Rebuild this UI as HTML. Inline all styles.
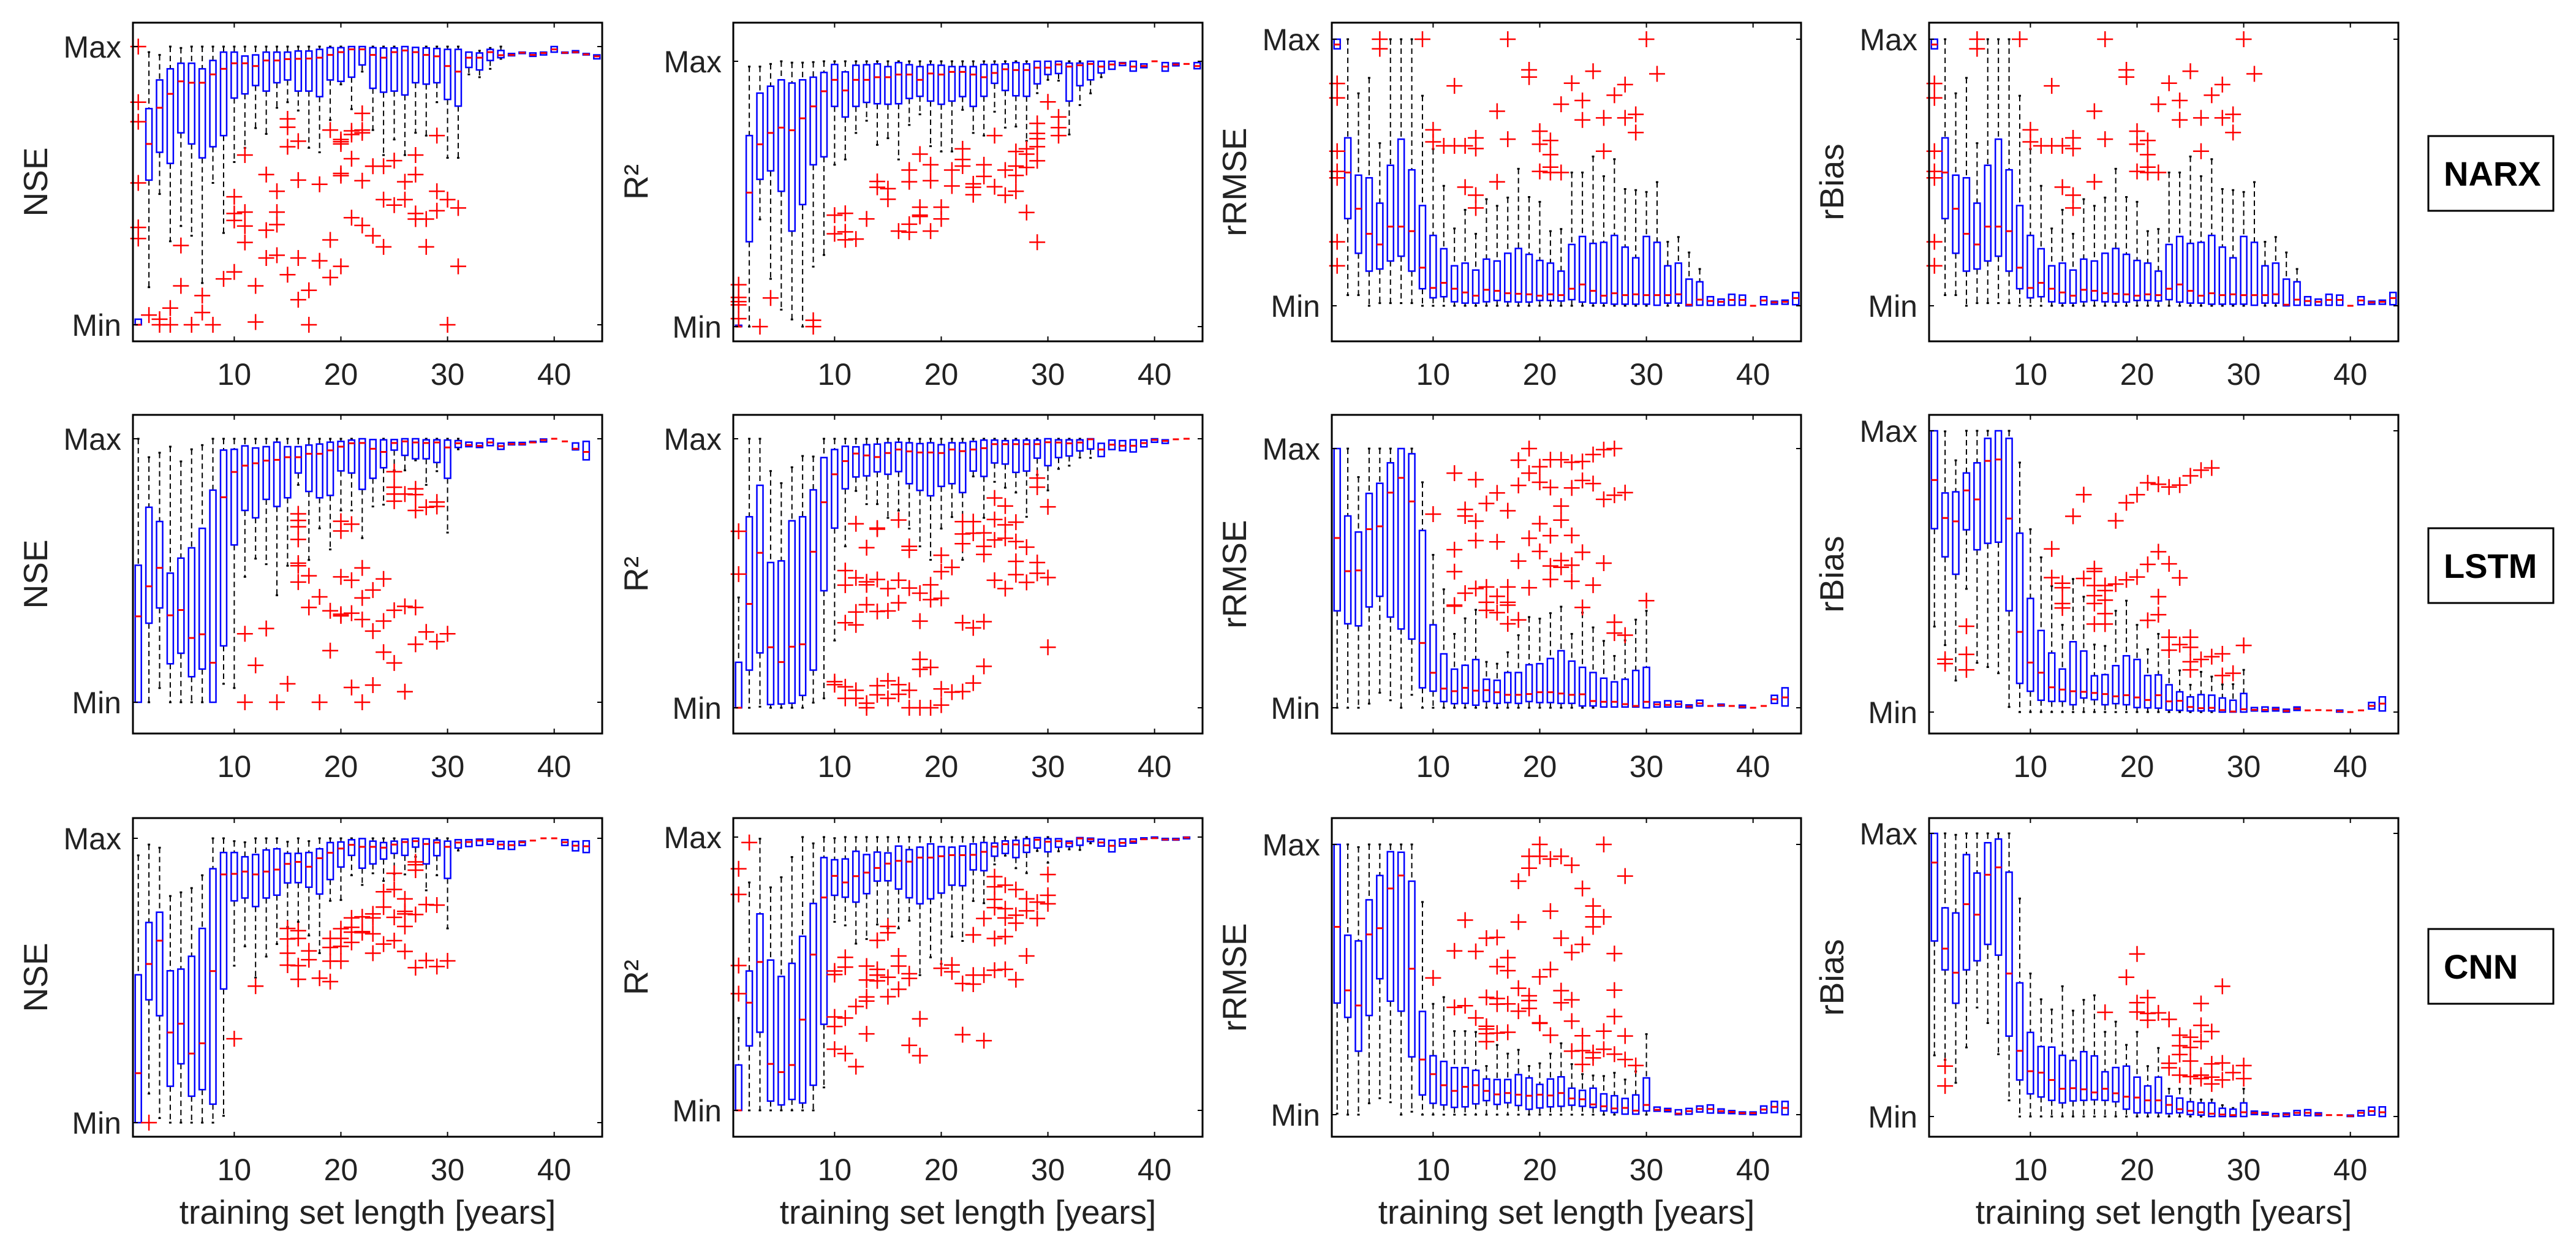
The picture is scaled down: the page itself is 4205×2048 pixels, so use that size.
<!DOCTYPE html>
<html><head><meta charset="utf-8"><style>
html,body{margin:0;padding:0;background:#fff;}
svg{display:block;font-family:"Liberation Sans",Arial,sans-serif;}
</style></head><body>
<svg id="fig" width="4205" height="2048" viewBox="0 0 4205 2048" xmlns="http://www.w3.org/2000/svg">
<rect width="4205" height="2048" fill="#fff"/>
<g><rect x="3964" y="222" width="204" height="122" fill="#fff" stroke="#000" stroke-width="3"/><text x="3989" y="303" font-size="56" font-weight="bold">NARX</text></g>
<g><rect x="3964" y="862" width="204" height="122" fill="#fff" stroke="#000" stroke-width="3"/><text x="3989" y="943" font-size="56" font-weight="bold">LSTM</text></g>
<g><rect x="3964" y="1516" width="204" height="122" fill="#fff" stroke="#000" stroke-width="3"/><text x="3989" y="1597" font-size="56" font-weight="bold">CNN</text></g>
</svg>
<script>
// ---- data (normalised 0 = Min, 100 = Max) ----
const xTicks = [10,20,30,40];
const yTickLabels = ["Min","Max"];
const yLabels = ["NSE","R²","rRMSE","rBias"];
const xLabelText = "training set length [years]";

// NARX NSE
const p11Whi=[2,98,97,100,99.5,100,100,100,100,100,100,100,100,100,100,100,100,100,100,100,100,100,100,100,100,100,100,100,100,100,100,98,98.5,99.5,100];
const p11Q3=[2,77.7,88,92,94,94,92,95,98,98,96.6,97,98,98,98,98.4,98.4,99,99.6,99.6,100,100,99.6,99.5,99.5,100,99.7,99.5,99.3,99,99,98,97.7,99,98.6,97.5,98,97.7,98,100,98,98.5,97.5,97];
const p11Med=[0,65,78,83,87.5,87,87,90,92,94,94,93,95,95,95.5,95.6,95.7,96,97,98,99,99,97,96,98,98.6,98,97,96.5,93,91,96,96,98,96.9,97,97.8,97,97.7,99,97.8,98,97.2,96.5];
const p11Q1=[0,52,62,58,69,65,60,64,68,81.5,83,86,84,87,88,84,84,82,88,87.5,89,93.4,85,83.6,84,82.6,87,86.5,87,81,78.6,92.5,91.6,95,96,96.7,97.5,96.5,97,98,97.6,97.8,97,95.6];
const p11Wlo=[0,13.5,47,30,35.5,32,15,51,33,58.5,63.6,70.7,68.6,78,80,77,63.6,62,73.6,86.4,77.5,91,70,61,66.6,61,69,68,80,60,60,90,89,92,95.6];
const p11Out=[[1,100,80,73,51,35,31],[2,3.5],[3,2,0],[4,6,0],[5,28.5,14],[6,0],[7,10.5,4.4],[8,0],[9,16.5],[10,46,40,37.5,19],[11,61,40.5,35.5,29.6],[12,14,1],[13,54,34,24],[14,48,40.5,36,25],[15,74,71,64,18],[16,66,52,24,9],[17,12.4,0],[18,50.5,23],[19,70,30.5,17],[20,66.6,65.8,65,54.4,53.6,21],[21,69.7,68.4,59.7,38.5],[22,76,70,69,51.8,35.7],[23,57,32],[24,57,45,28],[25,59,43],[26,51.4,45],[27,61,54,40,38],[28,38,28],[29,68,48,41],[30,45,0],[31,42,21]];

// NARX R2
const p12Whi=[0.5,98,98,99,100,99.5,99.5,99.7,100,100,100,100,100,100,100,100,100,100,100,100,100,100,100,100,100,100,100,100,100,100,100,100,100,100,100];
const p12Q3=[0.5,72,88,90.6,93,91.8,93,94,95.8,98.8,96,98.5,98.7,99,98,99.5,98.7,98,98.7,98.5,98,98,98,98.8,98.8,99,99.5,99,100,100,100,99.3,99.3,100,100,100,99.5,100,99,100,99.5,99.3,99.2,99.5];
const p12Med=[0,50.5,68.7,73,75,74,78.5,83,88.7,93,89,93,93,94,94,95,95,93,95.4,95,96,96,95,94,95.6,97,96.7,96.7,97.6,97.6,98.8,98,98.5,99,98,98.8,99.2,98,98.2,100,98,98.8,99,98.2];
const p12Q1=[0,32,55.5,58.7,51,36,46,61,64,83,79,83,84.5,84,83.8,84,86,86.8,85,83.8,85,86.7,83,86.8,91.7,89,87,86.8,91.5,95,95.4,85,90.8,93,95.6,97,98.4,96.3,97.6,100,96.3,98.3,99,97.2];
const p12Wlo=[0,0,40.4,18,6.4,2.7,0,22.6,27,61,63,73,77.6,68.5,71,63,76,80,68,66,66,81.7,73,72,81,75,75.4,70,88,93,92.7,72.4,83.5,87.9,94];
const p12Out=[[1,15.8,11,9.4,8.2,3],[3,0],[4,10.8],[8,2.4,0],[10,42,35],[11,42.7,35.7,32.7],[12,33],[13,40.6],[14,54.7,52.5],[15,52,48],[16,36],[17,59,54.6,38.6,35.6],[18,65,45,42,41.5],[19,61,55,36],[20,45,40.6],[21,59,53],[22,67,63,60.5],[23,53.8,52.5,49.7],[24,61,56.6],[25,72,52.7],[26,59,49.5],[27,66,60.5,57,51],[28,67,65,60,43],[29,76.6,72.8,70.8,67.8,62.5,31.8],[30,84.7],[31,79,75,72]];

// NARX rRMSE
const p13Whi=[100,100,79.7,85.5,61,100,100,100,78.8,58.8,45,29,36,27,40,37.5,40.6,51.4,40.8,39,28,28.8,50,50,56,48.6,55,43.8,43.4,42.7,46.4,24,25.8,20,13.8];
const p13Q3=[100,63,49,48,38.5,52.7,62.5,51,37.6,26.4,21.4,15,16,13.4,17.5,16.8,19.7,21.5,19.3,17,16,13,23,26,23.4,23.8,26.4,22,18,26,23.8,15,16,10,9,3.4,2.5,4.3,4,0,3.4,1.7,2.1,5];
const p13Med=[98,50,36.4,27,23,29.7,29.7,28,14.3,6.7,8.6,6.4,5,3.8,6,5.6,4.7,4.5,4.3,3.8,4.3,4,6.4,8,5.6,3.8,4.7,4,4.3,4,4,4,4.3,0.4,2.3,1.8,1.5,2.2,2.2,0,2,1.3,1.5,2.9];
const p13Q1=[96.4,32.7,19.7,13,13.8,16.8,18.6,13,6.4,3,3.4,1.5,1,1,1.5,2,1.5,1.4,1.4,2,2,1.8,2.3,1.4,1,1,0.6,0.6,0.6,0.6,0.2,1,1,0,0.2,0.2,0.2,0.2,0.2,0,0.4,0.6,0.6,0.4];
const p13Wlo=[96.4,4,4,0,1,1,1,1,0,0,0,0,0,0,0,0,0,0,0,0,0,0,0,0,0,0,0,0,0,0,0,0,0,0,0];
const p13Out=[[1,83.4,78,58,50.4,48,24,15],[5,100,96.4],[9,100],[10,66,61.5],[11,60],[12,82.5,60],[13,60,44.5],[14,63,59,41.5,36.7],[16,73,46.5],[17,100,62.5],[19,88.5,85.8],[20,65.5,60.6,50.4],[21,62,56.7,52,50],[22,75.6,50],[23,83.5],[24,77,69.7],[25,88],[26,70.5,58],[27,79],[28,83,70.5],[29,71.8,65],[30,100],[31,87]];

// NARX rBias
const p14Whi=p13Whi.slice(), p14Q3=p13Q3.slice(), p14Med=p13Med.slice(), p14Q1=p13Q1.slice(), p14Wlo=p13Wlo.slice(), p14Out=p13Out.map(a=>a.slice());

// LSTM NSE
const p21Whi=[100,93,94.7,97,91.4,96,97.6,100,100,100,100,100,100,100,100,100,100,100,100,100,100,100,100,100,100,100,100,100,100,100,100];
const p21Q3=[52,74,68.6,49,54.7,58.6,66,80.5,95.7,96,97.3,96.5,97,98.7,97,97,97.6,98,98.7,99,99.5,100,99.7,99.6,99.7,100,100,99.6,99.6,99.5,99.3,98.7,98.4,100,98.3,98.6,98.6,99,99.9,100,99,98.4,99,null];
const p21Med=[32.6,44,51,33,35,24.4,25.8,15,77.8,87.4,89.8,90.7,91.7,92,93,93,94.3,94.3,95.6,97,98.3,98.4,96.2,95,98.4,99,98.6,98.4,98.6,96.7,98.3,97.6,97.3,98.6,97.2,98,98,98.6,99.5,100,99,96.2,95,null];
const p21Q1=[0,30,35.8,14.6,18.6,9.7,12.6,0,21.4,59.7,72.8,70,77,74.3,77.6,87,80,77.6,78.5,87.8,87,80.8,85,89,95.7,93.7,92.4,92.4,91,85,96.7,97,96.7,97.4,96,97.7,97.7,98.6,98.8,100,99,95.8,92,null];
const p21Wlo=[0,0,5.4,0,0,0,0,0,7,5.4,47.6,54.5,52.4,40.6,51.8,82.5,54,66,58,72.8,72.8,62.3,74.3,75,88,88,91.8,82.5,87.7,64.4,96];
const p21Out=[[11,26,0],[12,14],[13,28],[14,0],[15,7],[16,71.5,69,66.6,61.8,52.8,51.8,45.6],[17,48,36],[18,40,0],[19,34.7,19.6],[20,68.7,65,47.6,33.4,32.8],[21,67.6,46.3,33.8,5.6],[22,51,39.6,31.4,0],[23,42.6,27,6.5],[24,46.8,30.8,19],[25,87.5,81.6,79,76.3,34.9,14.9],[26,79,36.4,4],[27,81,78.8,72.8,36,22],[28,74,26.7],[29,76,74.3,23],[30,26]];

// LSTM R2
const p22Whi=[41,100,100,88,83.5,89.4,93.6,93.4,100,100,100,100,100,100,100,100,100,100,100,100,100,100,100,100,100,100,100,100,100,100,100,100,100,100];
const p22Q3=[16.9,71,82.7,54,54.6,69.5,71,81,93,96,97.2,97,97.8,98,98.5,98.7,98.5,98.2,98.5,97.8,98.5,98.5,99,99.5,99.5,99.3,99.5,99.5,99.5,100,99.6,99.6,99.6,100,98.3,99.5,99.3,99.6,99.5,100,99.6,99.8,100,null];
const p22Med=[0,38.6,57.6,22.5,17,22.7,23.6,58,76.4,86.8,91.7,94.5,93.8,93.2,94.7,96,95.3,94.9,94.9,94.7,96,95.4,96,96.5,98,98,98,98,98,98.7,98.6,98.3,98.6,99.8,96,97.8,97.4,97.4,98.4,99.6,99.2,99.8,100,null];
const p22Q1=[0,14,20.4,1.2,1.4,1.7,4.6,14,43.5,66.8,81.4,85.8,86.2,87.7,86.8,87.8,83.3,80.8,78.8,82.3,83.3,80,88,86,91,90.6,87.5,88,92.8,90,93,93.6,95.5,96.2,93.4,96,95.6,95.1,97,98.7,98.3,99.6,99.9,null];
const p22Wlo=[0,0,0.4,0,0,0,0,1.9,3.5,25,60,80.6,75.7,75.7,70.6,73.3,66.6,60,55,66.6,70.9,55,86,70.6,84,81.8,80,71,86.6,80.8,88.8,90,93,92.9];
const p22Out=[[1,65.6,49.7],[10,9.7,8.6],[11,51,45.6,31.6,7.8,3.5],[12,68.4,48.3,35.6,30.8,6.5,3.5],[13,59.5,46.8,45.7,38.3,1.7,0],[14,66.8,66.4,47.7,35.8,8.2,4.8],[15,44.3,36,10,3.5],[16,69.8,47.4,39,8.6,5],[17,60,58.6,44.5,6.5,0],[18,42.6,32.2,18,14.3,0],[19,45.7,40.2,15,0],[20,56.7,50.6,40.7,7,1],[21,52.2,5.8],[22,69.2,64.6,61,31.6,6],[23,69.2,64.9,29.7,9.2],[24,65,60,57,32,15.4],[25,78,70,62.4,47.4],[26,75,68,63,44.3],[27,69,61.8,54.4,49.5],[28,59.7,46.6],[29,85.4,82,54,50],[30,74.7,48.4,22.5]];

// LSTM rRMSE
const p23Whi=[100,100,89,100,100,100,100,100,87,59,45.7,28.5,34.5,37.8,17.7,17,21.4,28,35,34.4,36.5,39,28.5,36.7,31,25.8,20,26,34,37.4];
const p23Q3=[100,74,67.8,82.7,86.6,94.5,100,98,68.4,32,20.8,14.9,16.4,18.6,11,10.6,13.6,13.6,16.6,17,19,22,18,15.6,13.6,11.4,10,11,14.4,15.6,2.2,2.7,2.5,1.1,2.9,0.7,1.4,0.7,1,0,0.7,4.8,7.7,null];
const p23Med=[65.5,52.7,53,68.9,70,83,88.7,79.6,25,13.5,7.4,6.4,7.7,6.6,6.8,6,5,5,5.3,6,6,5.5,5,5.2,2.6,2.3,2.3,1.4,0.7,2.3,1.3,1.1,1.4,0.5,1.7,0.7,1,0.7,0.4,0,0.7,3.3,4,null];
const p23Q1=[37.4,32.4,31.6,38.9,43,35,30.4,26.5,7.7,6.4,2.4,1.6,1.7,1,2.4,1.7,2,1.7,2.4,2,2,1.7,1.7,0.7,0.7,0.3,0.3,0.3,0.3,0,0.3,0.3,0.3,0,0.7,0.7,0.7,0.7,0,0,0.7,1.7,0.7,null];
const p23Wlo=[0,0,0,1.6,5.8,2.9,0,5,0,0,0,0,0,0,0,0,0,0,0,0,0,0,0,0,0,0,0,0,0,0];
const p23Out=[[10,74.7],[12,90.5,61,52.5,39.6,39.2],[13,76.5,74,44.2],[14,88,72,64.5,46],[15,78.8,46.6,40.7,37.6],[16,82.9,64,43,36.7],[17,76,46.6,40.7,39.6,32.4],[18,95.5,85.8,56.6,33.9],[19,100,90.5,65.4,46.3],[20,93,87,71,60.3],[21,95.7,85,66.4,54.7,49.5],[22,95.7,77.8,72.4,56.8,54.2],[23,94.7,84.8,66.5,55,48.8],[24,95,87.7,60,38.7],[25,97.7,86.5,47.3],[26,99.6,80.4,55.8],[27,100,82,33,28.8],[28,83,28],[30,41.3]];

// LSTM rBias
const p24Whi=[100,99.8,89.5,100,100,100,100,100,88.7,65,55,44.8,31,47.3,41,24,23.5,36,39.6,31,22.3,27.8,22,14.8,9.7,14.3,12.6,9.8,9.9,15];
const p24Q3=[100,77.9,78.3,85,88.6,97.3,100,97.3,63.6,40.4,29,21,15.3,25,21.7,12.9,13.3,16.5,20,18.7,13,13.2,9.7,7.2,5.4,6.2,6,5,4.2,6.6,1.6,1.8,1.6,1,1.8,0.6,0.7,0.6,0.7,0,0.6,3.4,5.4,null];
const p24Med=[82.5,69,67.8,78.8,75.6,89.3,89.8,68.8,28.5,17.6,14,8.8,8,7.4,7.2,6.8,6.4,5.6,6,5.2,4.3,6,3.8,4,1.8,1.4,1.5,0.7,0.2,1,0.8,0.8,1,0.4,1.2,0.6,0.7,0.6,0.3,0,0.6,2.2,3,null];
const p24Q1=[65.2,55.2,49,64.8,57.7,60,60.4,36,10.2,7.4,4.2,3.8,3.8,2.6,5,4.4,2.6,3,2.6,1.6,1.5,1.4,0.7,0.6,0.4,0.4,0.4,0,0,0,0.4,0.2,0.4,0,0.6,0.4,0.5,0.4,0,0,0.4,1.1,0.4,null];
const p24Wlo=[30.4,23.8,11.2,43.8,17.5,16,13.8,1.8,0,0,0,0,0,0,0,0,0,0,0,0,0,0,0,0,0,0,0,0,0,0];
const p24Out=[[2,18.8,17.2],[4,30.5,20.5,15],[12,58,47.8],[13,45.8,44.2,38.6,37],[14,69.6],[15,77.3,47.5],[16,51,50,45,41.4,38.6,31.3],[17,45,43.2,39.8,35,31.3],[18,68,45.5],[19,74.4,47],[20,77.3,48],[21,81.5,52.5,32.6],[22,81,57,41,34.6],[23,80,52.7,26.6,22],[24,80.7,47.7,24],[25,84,26.6,23,17.9,15],[26,86,18.7],[27,86.8,19.7],[28,20.7,13],[29,13.8],[30,23.7]];

// CNN NSE
const p31Whi=[94,97.8,96.7,79.7,81,82.5,87,100,100,99,98.6,100,100,100,98.8,100,99,100,100,100,100,100,100,100,100,100,100,100,100,100];
const p31Q3=[52,70.4,74,53.4,54,58.5,68.3,89.3,95,95,93.5,94.3,95.9,96.3,94.7,94.7,95,96.3,98.5,98.7,99.5,99.9,99,98.5,99,99.7,100,99.8,99.4,99,99.5,99.5,99.7,99.7,98.9,98.9,99,99.8,100,100,99.5,98.9,99.1,null];
const p31Med=[17.4,55.8,64,31.7,34.8,24.3,27.9,53.3,87.3,87.5,88.3,87.3,88.3,89,91,91.7,90,93,94.9,96.4,97.7,97,97,96.7,97.8,98.7,99,98,98.5,97,98.5,98.7,99.2,99,97.8,97.6,98.6,99.2,100,100,98.6,97.4,97.2,null];
const p31Q1=[0,43.2,37.6,12.8,20.7,9.3,11.6,6.5,47,78,79,76,79,80,84.3,84.4,82.8,80.4,85.5,89.9,94,89.5,91,92.7,94.7,94,96.9,91,93.9,85.9,96.6,97.1,97.5,97.9,96.3,96.1,97.5,99.5,99.9,100,97.5,95.6,95,null];
const p31Wlo=[0,10.2,1.6,0,0,0,0,0,2.4,55.2,62,51,58.4,62.8,68.8,70.6,65.8,59.6,78,78.3,87,83.6,87.7,85,87.5,87.3,93.5,81.7,87,68.3,95.7];
const p31Out=[[2,0],[10,29.5],[12,48],[15,68.3,64.6,59.6,55.4],[16,67.5,64.8,55.2,50.4],[17,60.4,57.3],[18,50.8],[19,64.8,61.6,56.8,49.6],[20,68.2,64.8,62,56.8],[21,72,68.7,67,63.4],[22,72.4,67.2,66.8],[23,73.4,72,66.4,59.6],[24,81.2,75.8,62.8],[25,87.7,82,72.2,64],[26,78.7,74.3,73.4,69,60.2],[27,91.7,90.7,88.8,73.2,54.5],[28,76.7,57],[29,76.5,54.9],[30,56.9]];

// CNN R2
const p32Whi=[33.8,83.4,99.4,81.6,85.3,92.7,100,97.7,100,99.6,100,100,100,100,100,100,100,100,100,100,100,100,100,100,100,100,100,100,100,100];
const p32Q3=[16.6,51,71.9,55,49,53.8,63.7,75.7,92.5,91.7,92,94.8,93.6,94.5,94.2,96.7,95.4,96.3,97.5,96.5,96.3,96.7,97.5,98,97.8,98.6,98.8,99.4,99.8,99.4,99.4,98.5,99.8,99.6,99.2,98.8,99.3,99.3,99.7,100,99.5,99.5,100,null];
const p32Med=[0,39.4,54.3,17,14,16.6,33.2,57,77.9,85.8,83.4,85.7,87,88.7,90.3,91.3,91,92.5,92.5,93,93.4,93.4,93.5,94.6,96.5,97.4,97.3,97,99,98.3,98.5,97.8,99.5,99.2,98,96.8,97.9,98.4,99.2,99.6,99.1,99.1,99.8,null];
const p32Q1=[0,23.6,28.6,3.4,2,4,2.7,9.2,31.5,78.7,78,76.2,79.3,83.9,84,81,77.8,75.6,77.4,79.5,82.4,82.2,88,87.7,93,94,92.5,94.4,96,94.6,96.3,96.5,97,98.4,96.7,94.6,96.7,97.8,99.2,99.6,98.9,98.9,99.4,null];
const p32Wlo=[0,0,0,0,0,0,0,0,8.4,69,67.7,61,62.7,68,66.6,66.6,69.4,49.5,56,53.6,63.6,62,76.6,75.8,90,93.2,88.6,86.8,94.9,90.6,94.8,95.5,95.3,97.7];
const p32Out=[[1,88.4,79,53,42.7],[2,98],[10,51,49.7,34.2,30.7,22.4],[11,56,52.4,33.8,20.8],[12,38,16],[13,52.8,47.7,41.5,40,28],[14,62.2,51.6,49.5,47.4],[15,67.3,65,48.7,41.6],[16,56.5,52.8,44.3],[17,50,48.3,23.8],[18,33.5,20],[20,52],[21,53.2,50.7],[22,46.4,27.7],[23,64.2,49.5,46.2],[24,70.2,49.5,25.5],[25,85.5,81.8,77.2,74.2,62.9,51.3],[26,82.4,73.8,70.4,63.6,51.6],[27,80.8,71.4,68.5,47.8],[28,77.4,73,56.5],[29,76.2,70.2],[30,86.3,78.7,75.6]];

// CNN rRMSE
const p33Whi=[100,100,99,100,100,100,100,100,78.7,41,43.5,30.9,30.9,30.6,18,25.8,22.6,24,18,19,22.6,26.4,18.7,15,14.5,14.3,15.5,13,16,29.8];
const p33Q3=[100,66.4,64.3,79.5,88.5,97.3,97.1,86.4,38.2,21.8,19.7,17.4,17.4,16.4,13.2,13,13,14.8,13.6,11.2,13.2,14,9.8,9,9.8,7.7,7,6,7.3,13.6,2.8,2.3,1.8,2.3,3.2,3.6,2.1,1.5,1,1,3.2,4.9,4.9,null];
const p33Med=[69.5,46,40.4,66.7,69,83.7,88.5,54,20.4,15,10.9,8.8,10.3,10.9,8.8,7.5,8,7.4,7,7.4,7.1,8,6,5.7,3.8,3.1,2.3,2.5,1.5,3.6,1.8,1.7,0.4,1.3,2.1,2.1,1.3,1,0.6,0.6,1.9,2.9,2.5,null];
const p33Q1=[41.3,36,23.5,36.7,50.3,42,38.3,21.4,7.3,4.2,3.6,2.7,2.9,4,5.2,3.8,4.4,3.4,2,2.5,2.9,3.1,3.5,3.1,2.7,1.4,0.8,0.2,0.2,1.4,1.3,1.1,0,0.2,1,0.6,0.6,0.4,0.2,0,0.6,0.8,0,null];
const p33Wlo=[0.4,0,0,4.2,6.1,4.6,0,1.1,0,0,0,0,0,0,0,0,0,0,0,0,0,0,0,0,0,0,0,0,0,0];
const p33Out=[[10,50.6],[12,60.6,39.7],[13,72,40.3],[14,60.4,35.8],[15,65.3,43.4,32.7,31.7,30,27],[16,65.6,54.8,43,40.9,30.2],[17,58.1,53.3,41,30.5],[18,86.4,71.3,46.8,38.3],[19,95.6,91.2,44,42.2,39.3],[20,100,95.6,51,34,33.8],[21,94.6,75.3,53.7,29.4],[22,95.6,65.3,45.9,41.4],[23,92.3,60,42.5,34.6,23.5],[24,83.7,63,29.2,23.7,18.6],[25,77.2,73.2,69.5,23,21],[26,100,73.2,30.9,24.2],[27,59.6,46.1,36.3,22.4],[28,88.3,29.1,20.4],[29,18.2]];

// CNN rBias
const p34Whi=[100,100,99.5,100,100,100,100,100,77,50.5,41.4,37.8,46,37.4,41.2,42.8,29.9,33.5,25.3,29.9,17.8,24.2,9.8,9.8,9.8,6,6,4,3,9.8];
const p34Q3=[100,73.7,71.9,92.5,86,96.7,98,86.3,47.2,29.7,24.7,24.5,21.6,19.8,22.9,21.4,15.8,17.3,17.8,13.9,10.8,13.9,7.2,6.5,5.2,4.8,4.8,2.9,2.6,4.8,1.9,1.5,1,1.2,2.1,2.4,1.3,0.5,0.5,0.5,2.1,3.3,3.4,null];
const p34Med=[89.7,59.3,50.8,75,71.3,85.4,88,50.5,23.2,16,15.5,12.9,9.8,10,9.6,8.5,9.8,8.2,7,6.7,5.7,5.7,4.1,2.6,2,1.5,1,0.7,0.5,1.5,1.3,1,0.2,0.7,1.3,1.3,0.8,0.5,0.5,0.2,1.3,1.9,1.5,null];
const p34Q1=[62,51.8,40,51.8,55,60.8,57,28.4,12.9,8,6.9,5.7,4.8,5.5,5.7,5.9,5.7,5.2,2.6,1.3,1.3,1.3,1,1.3,0.7,0.5,0,0,0,0,0.7,0.5,0,0,0.5,0.3,0.3,0.3,0.3,0,0.2,0.5,0,null];
const p34Wlo=[21.6,20,11.9,24.4,38.5,33,22,5.7,0,0,0,0,0,0,0,0,0,0,0,0,0,0,0,0,0,0,0,0,0,0];
const p34Out=[[2,17.8,10.8],[17,36.8],[19,49.2],[20,57.4,40.2,36.9],[21,42,36.4,34],[22,36.6],[23,34.3,18.8,17.2],[24,28.7,25,21.9,14.6],[25,28,24.4,19.6,14.1],[26,39.9,32.2,26.5,14.6,13.4],[27,30,18.6,13.9,11.5],[28,46,18.9,12.9],[29,15.5],[30,18,13.4]];

const panels = [
 [p11Whi,p11Q3,p11Med,p11Q1,p11Wlo,p11Out],[p12Whi,p12Q3,p12Med,p12Q1,p12Wlo,p12Out],[p13Whi,p13Q3,p13Med,p13Q1,p13Wlo,p13Out],[p14Whi,p14Q3,p14Med,p14Q1,p14Wlo,p14Out],
 [p21Whi,p21Q3,p21Med,p21Q1,p21Wlo,p21Out],[p22Whi,p22Q3,p22Med,p22Q1,p22Wlo,p22Out],[p23Whi,p23Q3,p23Med,p23Q1,p23Wlo,p23Out],[p24Whi,p24Q3,p24Med,p24Q1,p24Wlo,p24Out],
 [p31Whi,p31Q3,p31Med,p31Q1,p31Wlo,p31Out],[p32Whi,p32Q3,p32Med,p32Q1,p32Wlo,p32Out],[p33Whi,p33Q3,p33Med,p33Q1,p33Wlo,p33Out],[p34Whi,p34Q3,p34Med,p34Q1,p34Wlo,p34Out]
];
const panelNames=["narx","lstm","cnn"];

// ---- layout ----
const colLeft=[217,1197,2174,3149], rowTop=[37,677,1335], W=766, H=520;
const yOff=[[39,493],[63,496],[27,462],[27,462],[39,469],[39,478],[55,478],[26,485],[33,497],[31,477],[43,484],[25,487]];
const NS="http://www.w3.org/2000/svg";
const svg=document.getElementById('fig');
function mk(tag,attrs,parent){const e=document.createElementNS(NS,tag);for(const k in attrs)e.setAttribute(k,attrs[k]);(parent||svg).appendChild(e);return e;}

panels.forEach((pd,idx)=>{
  const r=Math.floor(idx/4), c=idx%4;
  const L=colLeft[c], T=rowTop[r];
  const [yMaxO,yMinO]=yOff[idx];
  const xs=n=>L+(n-0.5)*W/44;
  const ys=v=>T+yMaxO+(100-v)/100*(yMinO-yMaxO);
  const g=mk('g',{});
  
  
  const [whi,q3,med,q1,wlo,out]=pd;
  for(let i=0;i<44;i++){
    if(q3[i]==null||med[i]==null) continue;
    const n=i+1, x=xs(n);
    const hi=whi[i]??q3[i], lo=wlo[i]??q1[i];
    const bg=mk('g',{},g);
    
    
    if(hi>q3[i]+0.3){
      mk('line',{x1:x,y1:ys(hi),x2:x,y2:ys(q3[i]),stroke:'#000','stroke-width':2,'stroke-dasharray':'9,6'},bg);
      mk('line',{x1:x-2,y1:ys(hi),x2:x+2,y2:ys(hi),stroke:'#000','stroke-width':3},bg);
    }
    if(lo<q1[i]-0.3){
      mk('line',{x1:x,y1:ys(q1[i]),x2:x,y2:ys(lo),stroke:'#000','stroke-width':2,'stroke-dasharray':'9,6'},bg);
      mk('line',{x1:x-2,y1:ys(lo),x2:x+2,y2:ys(lo),stroke:'#000','stroke-width':3},bg);
    }
    const yt=ys(q3[i]), yb=ys(q1[i]);
    if(yb-yt>1.5) mk('rect',{x:x-5,y:yt,width:10,height:yb-yt,fill:'none',stroke:'#0000ff','stroke-width':2.5},bg);
    mk('line',{x1:x-5,y1:ys(med[i]),x2:x+5,y2:ys(med[i]),stroke:'#ff0000','stroke-width':3},bg);
  }
  out.forEach(o=>{
    const x=xs(o[0]);
    for(let k=1;k<o.length;k++){
      const y=ys(o[k]);
      const p=mk('path',{d:`M${x-13},${y}h26M${x},${y-13}v26`,stroke:'#ff0000','stroke-width':2.5,fill:'none'},g);
      
      
    }
  });
  // frame
  const fr=mk('rect',{x:L,y:T,width:W,height:H,fill:'none',stroke:'#000','stroke-width':3},g);
  
  
  // x ticks
  xTicks.forEach(t=>{
    const x=xs(t);
    mk('line',{x1:x,y1:T+H,x2:x,y2:T+H-8,stroke:'#000','stroke-width':2},g);
    mk('line',{x1:x,y1:T,x2:x,y2:T+8,stroke:'#000','stroke-width':2},g);
    const tl=mk('text',{x:x,y:T+H+71,'font-size':50,'text-anchor':'middle',fill:'#222'},g);
    tl.textContent=t;
    
    
  });
  // y ticks
  [0,100].forEach((v,k)=>{
    const y=ys(v);
    mk('line',{x1:L,y1:y,x2:L+8,y2:y,stroke:'#000','stroke-width':2},g);
    mk('line',{x1:L+W,y1:y,x2:L+W-8,y2:y,stroke:'#000','stroke-width':2},g);
    const tl=mk('text',{x:L-19,y:y+18,'font-size':50,'text-anchor':'end',fill:'#222'},g);
    tl.textContent=yTickLabels[k];
    
    
  });
  const cy=T+H/2, cx=L-140;
  const yl=mk('text',{x:cx,y:cy,'font-size':55,'text-anchor':'middle',fill:'#222',transform:`rotate(-90 ${cx} ${cy})`},g);
  yl.textContent=yLabels[c];
  
  
  if(r===2){
    const xl=mk('text',{x:L+W/2,y:1997,'font-size':55,'text-anchor':'middle',fill:'#222'},g);
    xl.textContent=xLabelText;
    
    
  }
});
</script>
</body></html>
